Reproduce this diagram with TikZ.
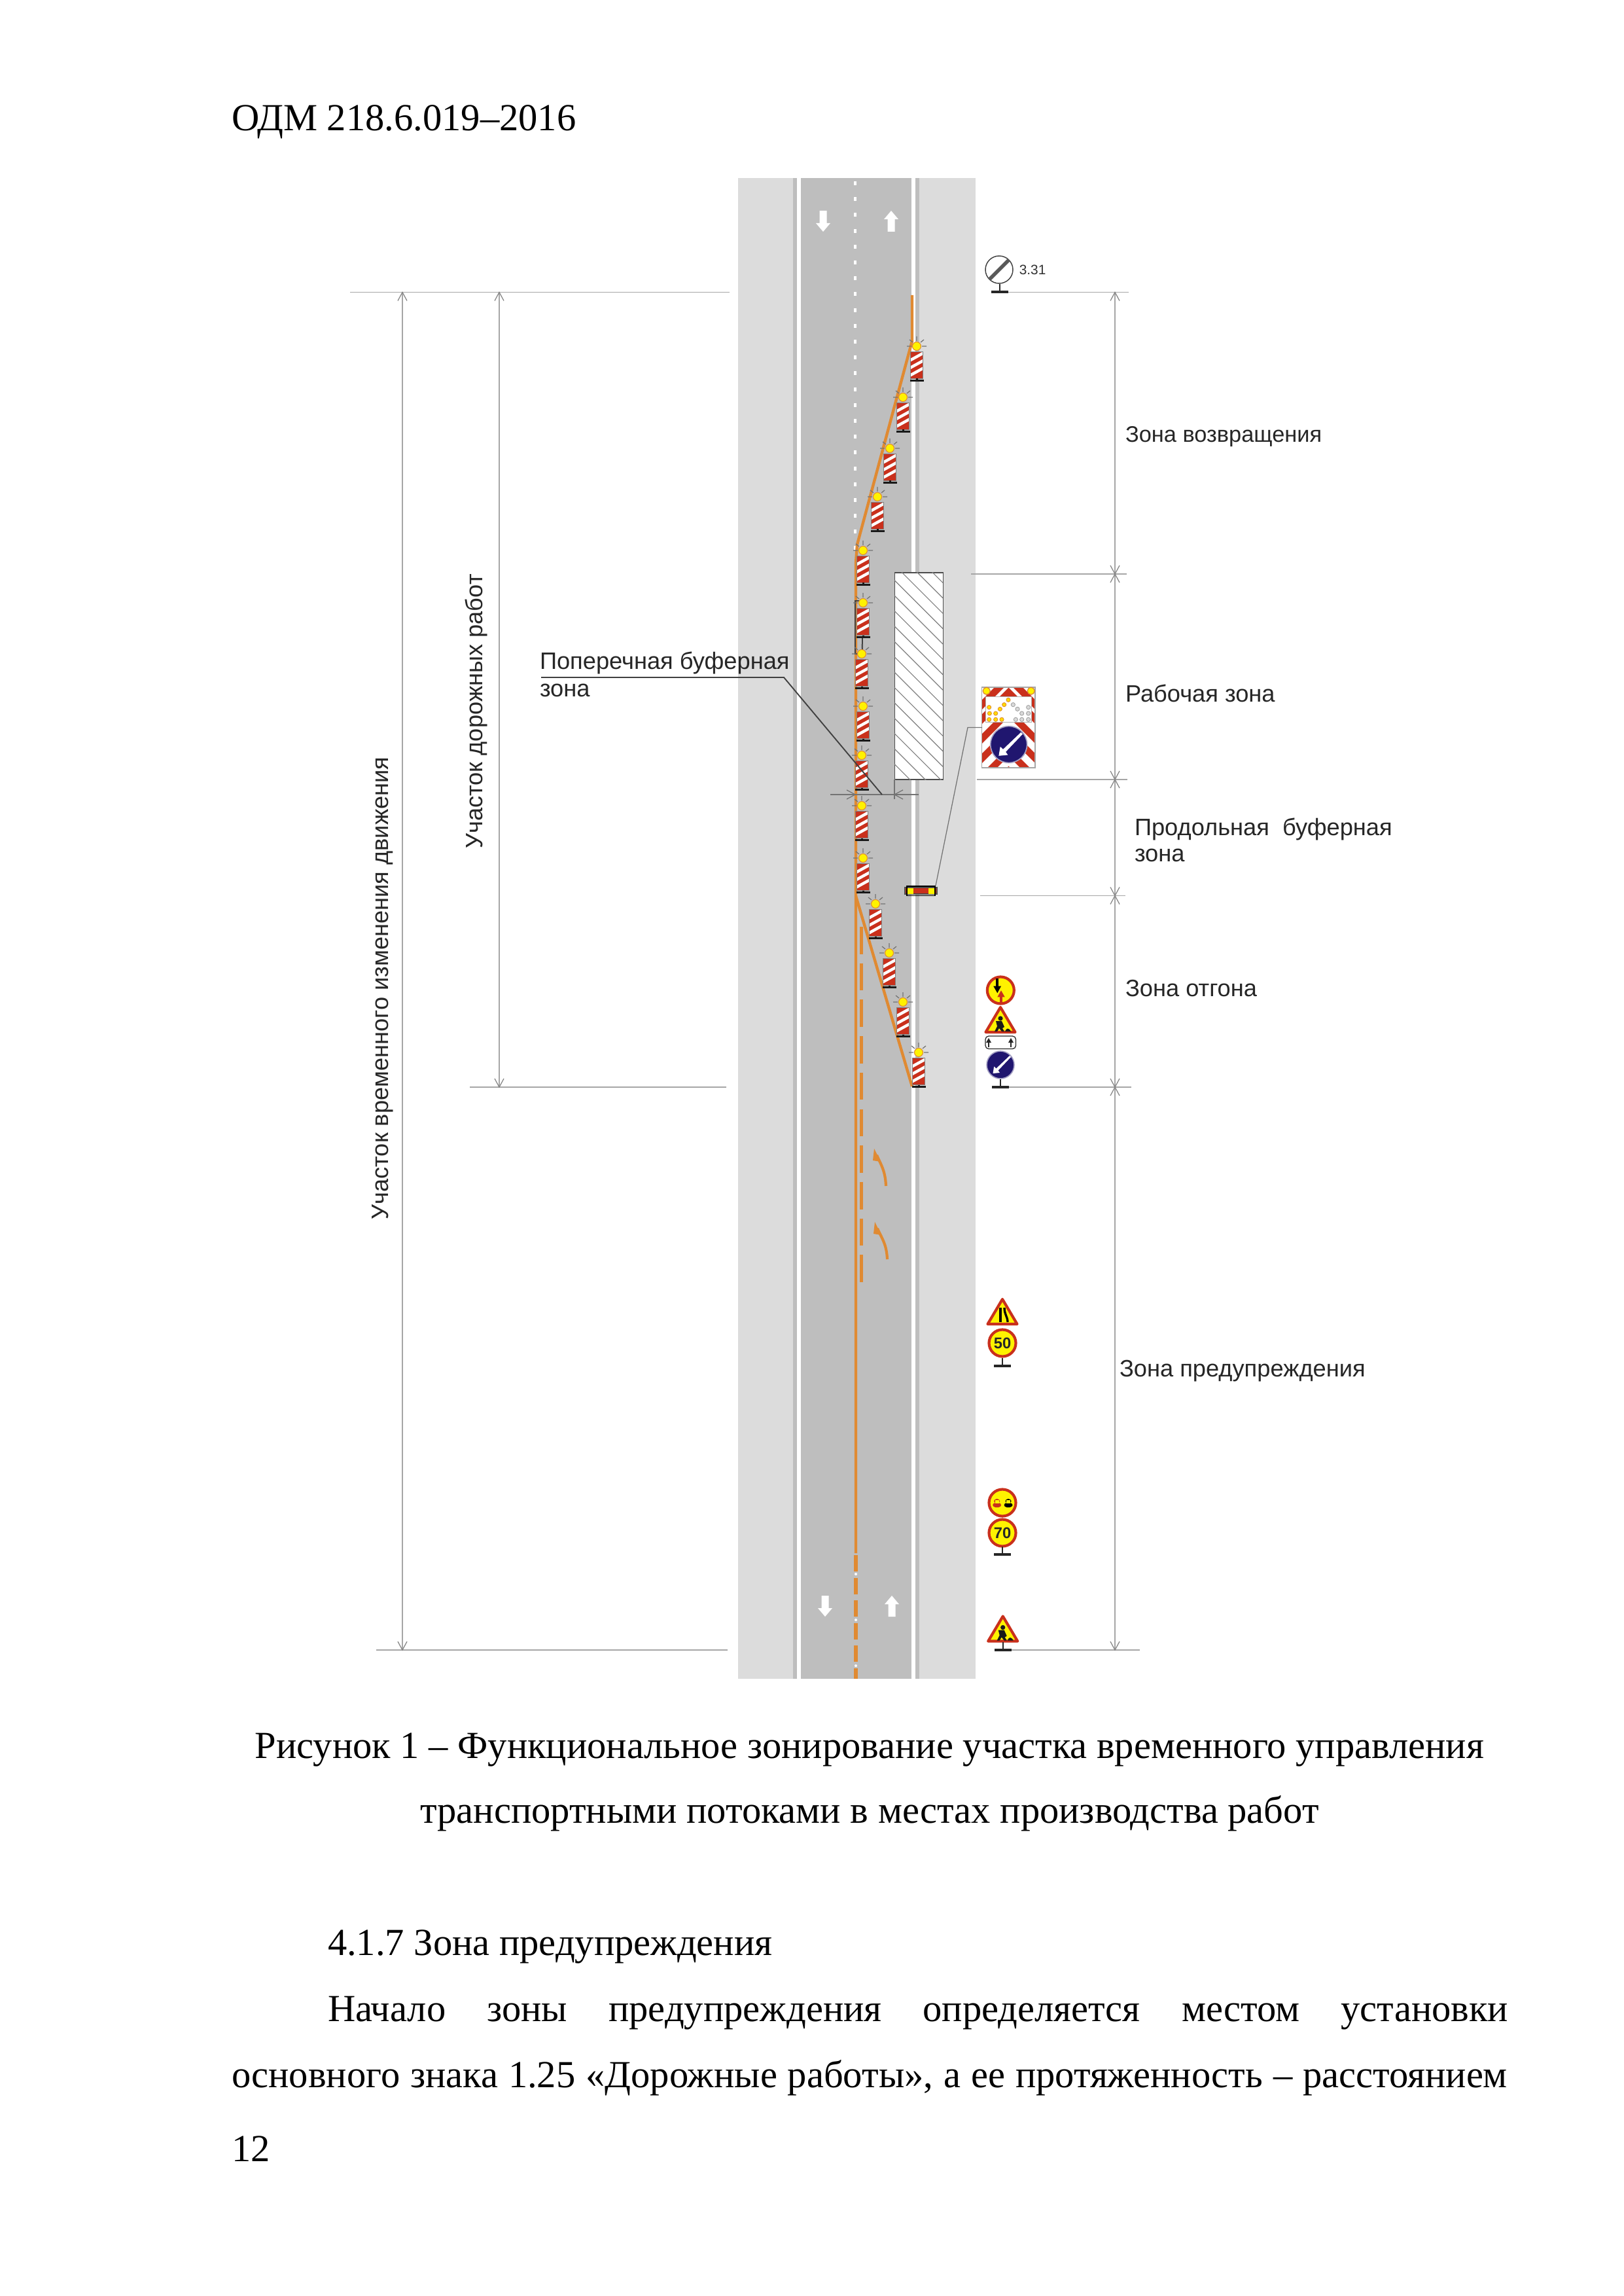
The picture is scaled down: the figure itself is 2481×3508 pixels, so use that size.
\documentclass[tikz,border=0pt]{standalone}
\usepackage{fontspec}
\usetikzlibrary{calc}
\setmainfont{Liberation Serif}
\setsansfont{Liberation Sans}
\definecolor{asph}{HTML}{BEBEBE}
\definecolor{shld}{HTML}{DCDCDC}
\definecolor{orng}{HTML}{E08A32}
\definecolor{rsign}{HTML}{C9301C}
\definecolor{ysign}{HTML}{FFF200}
\definecolor{bsign}{HTML}{20166F}
\definecolor{dimc}{HTML}{A6A6A6}
\tikzset{
  x=0.24pt,y=-0.24pt,
  dimline/.style={draw=dimc,line width=0.4pt},
  tickline/.style={draw=dimc!80!black,line width=0.3pt},
  ornline/.style={draw=orng,line width=1.05pt},
  leader/.style={draw=black!75,line width=0.45pt},
  thinleader/.style={draw=black!55,line width=0.3pt},
  labelsf/.style={font=\sffamily\fontsize{8.7pt}{10pt}\selectfont,anchor=base west,inner sep=0,outer sep=0,text=black!85},
  bodytxt/.style={font=\fontsize{14.05pt}{16pt}\selectfont,anchor=base west,inner sep=0,outer sep=0},
  bodymid/.style={bodytxt,anchor=base},
  tickx/.pic={\draw[tickline] (-7,-13)--(7,13) (7,-13)--(-7,13);},
  tickup/.pic={\draw[tickline] (-7,13)--(0,0)--(7,13);},
  tickdn/.pic={\draw[tickline] (-7,-13)--(0,0)--(7,-13);},
  arrup/.pic={\fill[white] (-5.5,16)--(5.5,16)--(5.5,-3)--(11,-3)--(0,-16)--(-11,-3)--(-5.5,-3)--cycle;},
  arrdn/.pic={\fill[white] (-5.5,-16)--(5.5,-16)--(5.5,3)--(11,3)--(0,16)--(-11,3)--(-5.5,3)--cycle;},
  beacon/.pic={
    \draw[black!55,line width=0.3pt]
      (-15,0)--(-8,0) (8,0)--(15,0) (0,-15)--(0,-8)
      (-11,-10)--(-6,-6) (11,-10)--(6,-6);
    \fill[ysign,draw=orng,line width=0.25pt] (0,0) circle[radius=6.5];
    \fill[rsign] (-9.3,8.5) rectangle (9.3,49.5);
    \begin{scope}
      \clip (-9,9) rectangle (9,49);
      \foreach \d in {16,27.5,39}
        \draw[white,line width=1.05pt] (-10,\d+5.5)--(10,\d-5.5);
    \end{scope}
    \draw[black!50,line width=0.3pt] (-9.3,8.5) rectangle (9.3,49.5);
    \fill[black!90] (-1.5,49.5) rectangle (1.5,52);
    \fill[black!90] (-10.5,51) rectangle (10.5,54);
  },
  stand/.pic={
    \draw[black!85,line width=0.45pt] (0,-12)--(0,0);
    \fill[black!85] (-13,-2) rectangle (13,2);
  },
  roundsign/.pic={
    \fill[ysign,draw=rsign,line width=1pt] (0,0) circle[radius=20.5];
  },
  bluesign/.pic={
    \fill[bsign,draw=bsign!40,line width=0.4pt] (0,0) circle[radius=21];
    \fill[white] (-11.5,13)--(-9.8,2.5)--(-6.5,5.5)--(14,-14)--(16,-12)--(-3.5,8.5)--(-1,12)--cycle;
  },
  trisign/.pic={
    \fill[ysign,draw=rsign,line width=1pt,line join=round] (0,-40)--(22.5,-2)--(-22.5,-2)--cycle;
  },
  worker/.pic={
    \fill[black!90] (0,-23) circle[radius=3.6];
    \fill[black!90] (-7,-19)--(2,-19)--(6,-10)--(3,-8)--(6,-3)--(2,-3)--(-2,-8)--(-5,-3)--(-9,-3)--(-5,-11)--cycle;
    \fill[black!90] (7,-3)..controls (9,-9) and (13,-9)..(16,-3)--cycle;
  }
}
\begin{document}
\begin{tikzpicture}
\useasboundingbox (0,0) rectangle (2481,3508);
\fill[white] (0,0) rectangle (2481,3508);

% road
\fill[shld] (1128,272) rectangle (1491,2565);
\fill[asph] (1212,272) rectangle (1405,2565);
\fill[white] (1218,272) rectangle (1224,2565);
\fill[white] (1393,272) rectangle (1399,2565);
\foreach \k in {0,...,23}
  \fill[white] (1305,{277+24.2*\k}) rectangle (1309,{283+24.2*\k});

% road arrows
\pic at (1258,338) {arrdn};
\pic at (1362,338) {arrup};
\pic at (1261,2454) {arrdn};
\pic at (1363,2454) {arrup};

% work zone
\node[draw=black!70,fill=white,line width=0.25pt,minimum width=73.7*0.24pt,minimum height=316*0.24pt,inner sep=0,outer sep=0] (work) at (1404.2,1033) {};
\begin{scope}
  \clip (work.north west) rectangle (work.south east);
  \foreach \k in {0,...,18}
    \draw[black!50,line width=0.28pt] (1367,{793+23.4*\k})--(1441,{867+23.4*\k});
\end{scope}

% orange lines
\coordinate (oa) at (1394,451);
\coordinate (ob) at (1394,521);
\coordinate (oc) at (1310,832);
\coordinate (od) at (1308,860);
\coordinate (oe) at (1308,2373);
\coordinate (of) at (1308,1369);
\coordinate (og) at (1394,1660);
\draw[ornline,line join=round] (oa)--(ob)--(oc)--(od)--(oe);
\draw[ornline] (of)--(og);
\foreach \k in {0,...,9}
  \draw[orng,line width=1.2pt] (1316,{1416+55.7*\k})--(1316,{1457.6+55.7*\k});
\foreach \k in {0,...,5}
  \draw[orng,line width=1.5pt] (1308,{2376+34.5*\k})--(1308,{min(2565,2401+34.5*\k)});
\foreach \yy in {2405,2475,2545}
  \fill[white] (1308,\yy) circle[radius=2];
\coordinate (arA1) at (1354,1812);
\coordinate (arA2) at (1336,1755);
\coordinate (arB1) at (1356,1924);
\coordinate (arB2) at (1337,1867);
\foreach \p/\q in {arA1/arA2,arB1/arB2}{
  \draw[orng,line width=1pt] (\p) .. controls ($(\p)+(-1,-24)$) and ($(\q)+(10,24)$) .. ($(\q)+(4,10)$);
  \fill[orng] (\q)--($(\q)+(10,20)$)--($(\q)+(-2,18)$)--cycle;
}

% bracket
\draw[black!75,line width=0.4pt] (1313,918)--(1307,918)--(1307,999)--(1313,999);
\draw[black!75,line width=0.4pt] (1318,972)--(1318,995);

% beacons
\foreach \n/\xx/\yy in {1/1401/529,2/1380/607,3/1360/685,4/1341/759,5/1319/841,
  6/1319/921,7/1317/999,8/1319/1079,9/1317/1154,10/1317/1231,11/1319/1311,
  12/1338/1381,13/1359/1456,14/1380/1531,15/1404/1608}
  \pic (bc\n) at (\xx,\yy) {beacon};

% transverse buffer dimension
\coordinate (tl) at (1269,1214);
\coordinate (tr) at (1404,1214);
\coordinate (tv1) at (1367,1191);
\coordinate (tv2) at (1367,1221);
\draw[draw=black!55,line width=0.3pt] (tl)--(tr) (tv1)--(tv2);
\draw[draw=black!55,line width=0.3pt] (1294,1207)--(1307,1214)--(1294,1221);
\draw[draw=black!55,line width=0.3pt] (1380,1207)--(1367,1214)--(1380,1221);

% label leader
\node[labelsf] (lb1) at (825,1023) {Поперечная буферная};
\node[labelsf] (lb2) at (825,1064) {зона};
\coordinate (ua) at (827,1035);
\coordinate (ub) at (1198,1035);
\coordinate (uc) at (1348,1214);
\draw[leader] (ua)--(ub)--(uc);

% dimension lines
\foreach \nm/\yy/\xa/\xb in {l1/446.5/535/1115,l2/1661/718/1110,l3/2521/575/1112,
  r1/446.5/1540/1725,r2/877/1484/1722,r3/1191/1493/1723,r4/1368.5/1498/1720,r5/1661/1542/1729,r6/2521/1545/1742}{
  \coordinate (\nm a) at (\xa,\yy);
  \coordinate (\nm b) at (\xb,\yy);
  \draw[dimline] (\nm a)--(\nm b);
}
\draw[dimline] (615,446.5)--(615,2521);
\draw[dimline] (763,446.5)--(763,1661);
\draw[dimline] (1704,446.5)--(1704,2521);
\pic at (615,446.5) {tickup};
\pic at (615,2521) {tickdn};
\pic at (763,446.5) {tickup};
\pic at (763,1661) {tickdn};
\pic at (1704,446.5) {tickup};
\foreach \yy in {877,1191,1368.5,1661} \pic at (1704,\yy) {tickx};
\pic at (1704,2521) {tickdn};

% sign 3.31
\coordinate (s1) at (1527,412);
\draw[black!75,line width=0.35pt,fill=white] (s1) circle[radius=21];
\draw[black!65,line width=1.3pt] ($(s1)+(-15,15)$)--($(s1)+(15,-15)$);
\pic at (1528,446.5) {stand};
\node[font=\sffamily\fontsize{5pt}{6pt}\selectfont,anchor=base west,inner sep=0,text=black!80] (t331) at (1557,419.5) {3.31};

% arrow board
\begin{scope}
  \clip (1500.5,1050) rectangle (1582,1173);
  \fill[white] (1500.5,1050) rectangle (1582,1173);
  \foreach \yy in {1036,1058,1088,1118,1148,1178}
    \draw[rsign,line width=2.5pt] (1481.5,\yy+60)--(1541.5,\yy)--(1601.5,\yy+60);
\end{scope}
\draw[black!35,line width=0.35pt] (1500.5,1050) rectangle (1582,1173);
\fill[white,draw=black!30,line width=0.2pt] (1506.7,1064) rectangle (1576.7,1103);
\fill[ysign,draw=orng,line width=0.3pt] (1507.7,1055.7) circle[radius=5.5];
\fill[ysign,draw=orng,line width=0.3pt] (1575.7,1055.7) circle[radius=5.5];
\foreach \xx/\yy in {65/122,67/150,65/178,95/150,95/178,123/178,115/130,134/110,153/88}
  \fill[ysign!80!orange,draw=orng,line width=0.2pt] ({1490+\xx/3},{1040+\yy/3}) circle[radius=3.1];
\foreach \xx/\yy in {175/110,195/130,215/150,245/122,245/150,245/178,215/178,187/178}
  \fill[black!15,draw=black!38,line width=0.2pt] ({1490+\xx/3},{1040+\yy/3}) circle[radius=3.1];
\pic[scale=1.33] at (1541.7,1137.5) {bluesign};

% flasher and leader
\fill[black!70] (1382,1355) rectangle (1433,1367);
\fill[rsign] (1384,1357) rectangle (1431,1365);
\fill[ysign] (1387,1356.5) rectangle (1396,1365.5);
\fill[ysign] (1419,1356.5) rectangle (1428,1365.5);
\draw[black,line width=0.3pt] (1386,1354) rectangle (1429,1368.5);
\coordinate (lA) at (1501,1111.5);
\coordinate (lB) at (1479,1111.5);
\coordinate (lC) at (1430,1353);
\draw[thinleader] (lA)--(lB)--(lC);

% signs in taper zone
\pic at (1529.3,1513) {roundsign};
\fill[black] (1521.7,1495) rectangle (1525.7,1507);
\fill[black] (1518.3,1506.7)--(1530,1506.7)--(1524.3,1517.3)--cycle;
\fill[rsign] (1527.7,1523) rectangle (1532.3,1531.7);
\fill[rsign] (1524.3,1523.3)--(1535.7,1523.3)--(1530,1513.3)--cycle;
\pic at (1529,1579) {trisign};
\pic at (1529,1579) {worker};
\draw[black!85,line width=0.3pt,fill=white,rounded corners=1.2pt] (1506,1583) rectangle (1552.5,1602.5);
\foreach \xx in {1511,1545}{
  \fill[black!85] (\xx-1.3,1600) rectangle (\xx+1.3,1591);
  \fill[black!85] (\xx-4,1593)--(\xx+4,1593)--(\xx,1586)--cycle;
}
\pic at (1529,1627) {bluesign};
\pic at (1529,1660.5) {stand};

% narrowing + 50
\pic at (1532,2025) {trisign};
\draw[black,line width=0.8pt] (1529,1998)--(1529,2020);
\draw[black,line width=0.8pt] (1535,1998).. controls (1535,2008) and (1540,2012) ..(1540,2020);
\pic at (1532,2052) {roundsign};
\node[font=\sffamily\bfseries\fontsize{5.7pt}{6pt}\selectfont,inner sep=0,text=black!85] (n50) at (1532,2052) {50};
\pic at (1532,2087) {stand};

% overtaking + 70
\pic at (1532,2296) {roundsign};
\foreach \xx/\cc in {1523.7/rsign,1541/black}{
  \fill[\cc,rounded corners=1pt] (\xx-6.5,2303) rectangle (\xx+6.5,2296);
  \fill[\cc,rounded corners=1pt] (\xx-4.5,2297) rectangle (\xx+4.5,2290);
  \fill[ysign] (\xx-2.8,2296.5) rectangle (\xx+2.8,2292);
}
\pic at (1532,2342) {roundsign};
\node[font=\sffamily\bfseries\fontsize{5.7pt}{6pt}\selectfont,inner sep=0,text=black!85] (n70) at (1532,2342) {70};
\pic at (1532,2375) {stand};

% roadworks
\pic at (1532.7,2509.5) {trisign};
\pic at (1532.7,2509.5) {worker};
\pic at (1533,2521) {stand};

% labels
\node[labelsf,font=\sffamily\fontsize{8.25pt}{10pt}\selectfont] (z1) at (1720,676) {Зона возвращения};
\node[labelsf] (z2) at (1720,1072) {Рабочая зона};
\node[labelsf] (z3a) at (1734,1276) {Продольная\ \ буферная};
\node[labelsf] (z3b) at (1734,1316) {зона};
\node[labelsf] (z4) at (1720,1522) {Зона отгона};
\node[labelsf] (z5) at (1711,2103) {Зона предупреждения};
\node[labelsf,rotate=90,anchor=base] (v1) at (593,1510) {Участок временного изменения движения};
\node[labelsf,rotate=90,anchor=base] (v2) at (737,1087) {Участок дорожных работ};

% page text
\node[bodytxt] (hd) at (354,200) {ОДМ 218.6.019–2016};
\node[bodymid] (c1) at (1329,2686) {Рисунок 1 – Функциональное зонирование участка временного управления};
\node[bodymid] (c2) at (1329,2785) {транспортными потоками в местах производства работ};
\node[bodytxt] (p0) at (501,2987) {4.1.7 Зона предупреждения};
\node[bodytxt] (p1) at (501,3088) {\hbox to 433pt{Начало зоны предупреждения определяется местом установки}};
\node[bodytxt] (p2) at (354,3189) {\hbox to 468pt{основного знака 1.25 «Дорожные работы», а ее протяженность – расстоянием}};
\node[bodytxt] (pg) at (354,3302) {12};
\end{tikzpicture}
\end{document}
